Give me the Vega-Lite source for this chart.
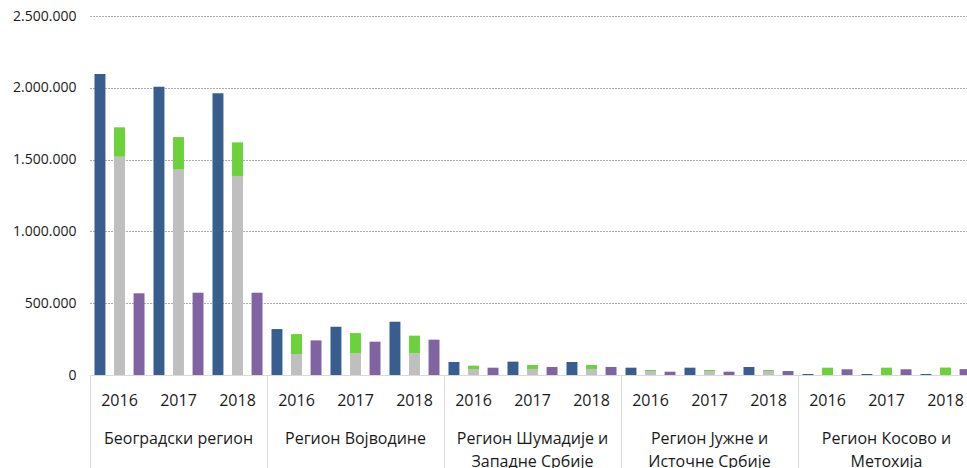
{
  "$schema": "https://vega.github.io/schema/vega-lite/v6.json",
  "width": 885,
  "height": 359,
  "autosize": {"type": "none"},
  "padding": {"left": 90, "top": 16, "right": 0, "bottom": 93},
  "background": "#ffffff",
  "config": {
    "view": {"stroke": null},
    "font": "Open Sans",
    "axis": {"labelFont": "Open Sans", "labelColor": "#1a1a1a", "titleFont": "Open Sans"}
  },
  "data": {
    "values": [
      {"region": "Београдски регион", "year": "2016", "series": "A", "kind": "A", "value": 2096000},
      {"region": "Београдски регион", "year": "2016", "series": "B", "kind": "B1", "value": 1520000},
      {"region": "Београдски регион", "year": "2016", "series": "B", "kind": "B2", "value": 205000},
      {"region": "Београдски регион", "year": "2016", "series": "C", "kind": "C", "value": 569000},
      {"region": "Београдски регион", "year": "2017", "series": "A", "kind": "A", "value": 2008000},
      {"region": "Београдски регион", "year": "2017", "series": "B", "kind": "B1", "value": 1432000},
      {"region": "Београдски регион", "year": "2017", "series": "B", "kind": "B2", "value": 225000},
      {"region": "Београдски регион", "year": "2017", "series": "C", "kind": "C", "value": 573000},
      {"region": "Београдски регион", "year": "2018", "series": "A", "kind": "A", "value": 1962000},
      {"region": "Београдски регион", "year": "2018", "series": "B", "kind": "B1", "value": 1386000},
      {"region": "Београдски регион", "year": "2018", "series": "B", "kind": "B2", "value": 234000},
      {"region": "Београдски регион", "year": "2018", "series": "C", "kind": "C", "value": 573000},
      {"region": "Регион Војводине", "year": "2016", "series": "A", "kind": "A", "value": 320000},
      {"region": "Регион Војводине", "year": "2016", "series": "B", "kind": "B1", "value": 146000},
      {"region": "Регион Војводине", "year": "2016", "series": "B", "kind": "B2", "value": 139000},
      {"region": "Регион Војводине", "year": "2016", "series": "C", "kind": "C", "value": 241000},
      {"region": "Регион Војводине", "year": "2017", "series": "A", "kind": "A", "value": 336000},
      {"region": "Регион Војводине", "year": "2017", "series": "B", "kind": "B1", "value": 151000},
      {"region": "Регион Војводине", "year": "2017", "series": "B", "kind": "B2", "value": 141000},
      {"region": "Регион Војводине", "year": "2017", "series": "C", "kind": "C", "value": 232000},
      {"region": "Регион Војводине", "year": "2018", "series": "A", "kind": "A", "value": 371000},
      {"region": "Регион Војводине", "year": "2018", "series": "B", "kind": "B1", "value": 151000},
      {"region": "Регион Војводине", "year": "2018", "series": "B", "kind": "B2", "value": 123000},
      {"region": "Регион Војводине", "year": "2018", "series": "C", "kind": "C", "value": 246000},
      {"region": "Регион Шумадије и Западне Србије", "year": "2016", "series": "A", "kind": "A", "value": 90500},
      {"region": "Регион Шумадије и Западне Србије", "year": "2016", "series": "B", "kind": "B1", "value": 42000},
      {"region": "Регион Шумадије и Западне Србије", "year": "2016", "series": "B", "kind": "B2", "value": 23000},
      {"region": "Регион Шумадије и Западне Србије", "year": "2016", "series": "C", "kind": "C", "value": 51000},
      {"region": "Регион Шумадије и Западне Србије", "year": "2017", "series": "A", "kind": "A", "value": 93000},
      {"region": "Регион Шумадије и Западне Србије", "year": "2017", "series": "B", "kind": "B1", "value": 42000},
      {"region": "Регион Шумадије и Западне Србије", "year": "2017", "series": "B", "kind": "B2", "value": 28000},
      {"region": "Регион Шумадије и Западне Србије", "year": "2017", "series": "C", "kind": "C", "value": 56000},
      {"region": "Регион Шумадије и Западне Србије", "year": "2018", "series": "A", "kind": "A", "value": 90500},
      {"region": "Регион Шумадије и Западне Србије", "year": "2018", "series": "B", "kind": "B1", "value": 42000},
      {"region": "Регион Шумадије и Западне Србије", "year": "2018", "series": "B", "kind": "B2", "value": 28000},
      {"region": "Регион Шумадије и Западне Србије", "year": "2018", "series": "C", "kind": "C", "value": 56000},
      {"region": "Регион Јужне и Источне Србије", "year": "2016", "series": "A", "kind": "A", "value": 51000},
      {"region": "Регион Јужне и Источне Србије", "year": "2016", "series": "B", "kind": "B1", "value": 28000},
      {"region": "Регион Јужне и Источне Србије", "year": "2016", "series": "B", "kind": "B2", "value": 7000},
      {"region": "Регион Јужне и Источне Србије", "year": "2016", "series": "C", "kind": "C", "value": 23000},
      {"region": "Регион Јужне и Источне Србије", "year": "2017", "series": "A", "kind": "A", "value": 51000},
      {"region": "Регион Јужне и Источне Србије", "year": "2017", "series": "B", "kind": "B1", "value": 28000},
      {"region": "Регион Јужне и Источне Србије", "year": "2017", "series": "B", "kind": "B2", "value": 7000},
      {"region": "Регион Јужне и Источне Србије", "year": "2017", "series": "C", "kind": "C", "value": 23000},
      {"region": "Регион Јужне и Источне Србије", "year": "2018", "series": "A", "kind": "A", "value": 56000},
      {"region": "Регион Јужне и Источне Србије", "year": "2018", "series": "B", "kind": "B1", "value": 28000},
      {"region": "Регион Јужне и Источне Србије", "year": "2018", "series": "B", "kind": "B2", "value": 7000},
      {"region": "Регион Јужне и Источне Србије", "year": "2018", "series": "C", "kind": "C", "value": 28000},
      {"region": "Регион Косово и Метохија", "year": "2016", "series": "A", "kind": "A", "value": 7000},
      {"region": "Регион Косово и Метохија", "year": "2016", "series": "B", "kind": "B1", "value": 0},
      {"region": "Регион Косово и Метохија", "year": "2016", "series": "B", "kind": "B2", "value": 51000},
      {"region": "Регион Косово и Метохија", "year": "2016", "series": "C", "kind": "C", "value": 40000},
      {"region": "Регион Косово и Метохија", "year": "2017", "series": "A", "kind": "A", "value": 7000},
      {"region": "Регион Косово и Метохија", "year": "2017", "series": "B", "kind": "B1", "value": 0},
      {"region": "Регион Косово и Метохија", "year": "2017", "series": "B", "kind": "B2", "value": 51000},
      {"region": "Регион Косово и Метохија", "year": "2017", "series": "C", "kind": "C", "value": 40000},
      {"region": "Регион Косово и Метохија", "year": "2018", "series": "A", "kind": "A", "value": 7000},
      {"region": "Регион Косово и Метохија", "year": "2018", "series": "B", "kind": "B1", "value": 0},
      {"region": "Регион Косово и Метохија", "year": "2018", "series": "B", "kind": "B2", "value": 52000},
      {"region": "Регион Косово и Метохија", "year": "2018", "series": "C", "kind": "C", "value": 41000}
    ]
  },
  "transform": [{"calculate": "datum.region + '|' + datum.year", "as": "key"}],
  "encoding": {
    "y": {
      "field": "value",
      "type": "quantitative",
      "title": null,
      "scale": {"domain": [0, 2500000], "nice": false},
      "axis": {
        "values": [0, 500000, 1000000, 1500000, 2000000, 2500000],
        "labelExpr": "replace(format(datum.value, ','), regexp(',', 'g'), '.')",
        "labelFontSize": 14,
        "labelPadding": 14,
        "ticks": false,
        "domain": false,
        "gridColor": "#595959",
        "gridDash": [1, 2],
        "gridWidth": 1,
        "gridOpacity": {"condition": {"test": "datum.value === 0", "value": 0}, "value": 1}
      }
    }
  },
  "layer": [
    {
      "mark": {"type": "bar"},
      "encoding": {
        "x": {
          "field": "key",
          "type": "nominal",
          "sort": null,
          "title": null,
          "scale": {"paddingInner": 0, "paddingOuter": 0},
          "axis": {
            "orient": "bottom",
            "labelExpr": "split(datum.value, '|')[1]",
            "labelAngle": 0,
            "labelFontSize": 16,
            "labelPadding": 17,
            "ticks": false,
            "tickSize": 0,
            "domainColor": "#d9d9d9",
            "domainWidth": 1,
            "grid": false
          }
        },
        "xOffset": {
          "field": "series",
          "type": "nominal",
          "scale": {"paddingInner": 0.44, "paddingOuter": 0.23}
        },
        "color": {
          "field": "kind",
          "type": "nominal",
          "legend": null,
          "scale": {
            "domain": ["A", "B1", "B2", "C"],
            "range": ["#375E8F", "#BFBFBF", "#6BD23A", "#8064A2"]
          }
        },
        "order": {"field": "kind", "sort": "ascending"}
      }
    },
    {
      "mark": {"type": "bar", "opacity": 0},
      "encoding": {
        "x": {
          "field": "key",
          "type": "nominal",
          "sort": null,
          "title": null,
          "axis": {
            "orient": "bottom",
            "bandPosition": 0,
            "labelExpr": "split(datum.value, '|')[1] != '2017' ? '' : (indexof(split(datum.value, '|')[0], ' и ') < 0 ? split(datum.value, '|')[0] : [substring(split(datum.value, '|')[0], 0, indexof(split(datum.value, '|')[0], ' и ') + 2), substring(split(datum.value, '|')[0], indexof(split(datum.value, '|')[0], ' и ') + 3)])",
            "labelAngle": 0,
            "labelFontSize": 16,
            "labelLineHeight": 23,
            "labelLimit": 400,
            "labelPadding": -38,
            "ticks": true,
            "tickSize": 93,
            "tickWidth": 1,
            "tickColor": {"condition": {"test": "split(datum.value, '|')[1] == '2016'", "value": "#d9d9d9"}, "value": "transparent"},
            "domain": false,
            "grid": false
          }
        }
      }
    }
  ],
  "resolve": {"axis": {"x": "independent"}}
}
